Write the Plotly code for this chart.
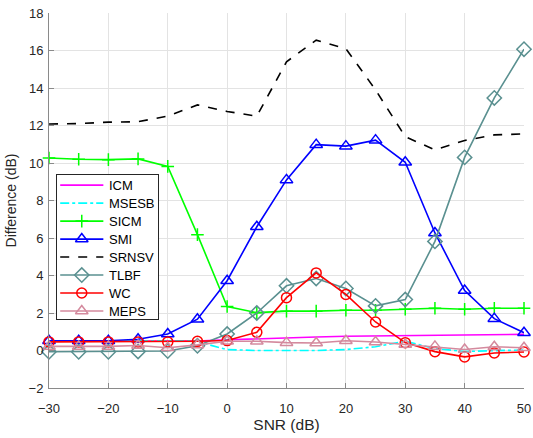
import plotly.graph_objects as go

snr = [-30, -25, -20, -15, -10, -5, 0, 5, 10, 15, 20, 25, 30, 35, 40, 45, 50]

icm = [0.5, 0.5, 0.5, 0.5, 0.5, 0.5, 0.57, 0.63, 0.68, 0.72, 0.76, 0.78, 0.8, 0.8, 0.8, 0.82, 0.86]
msesb_snr = [-30, -25, -20, -15, -10, -5, -3, 0, 5, 10, 15, 20, 25, 30, 35, 40, 45, 50]
msesb = [0.5, 0.5, 0.5, 0.5, 0.52, 0.52, 0.3, 0.05, 0.0, 0.0, 0.0, 0.05, 0.2, 0.5, 0.1, -0.05, 0.0, 0.03]
sicm = [10.27, 10.2, 10.18, 10.22, 9.82, 6.18, 2.35, 2.02, 2.1, 2.1, 2.15, 2.15, 2.2, 2.25, 2.2, 2.25, 2.25]
smi = [0.52, 0.52, 0.52, 0.6, 0.88, 1.67, 3.72, 6.6, 9.1, 10.98, 10.9, 11.22, 10.04, 6.27, 3.2, 1.7, 0.95]
srnsv = [12.08, 12.1, 12.18, 12.2, 12.5, 13.1, 12.75, 12.5, 15.4, 16.55, 16.1, 13.9, 11.4, 10.7, 11.2, 11.5, 11.55]
tlbf = [-0.07, -0.07, -0.07, -0.05, -0.03, 0.25, 0.88, 2.0, 3.45, 3.84, 3.31, 2.38, 2.72, 5.82, 10.3, 13.47, 16.07]
wc = [0.46, 0.46, 0.46, 0.46, 0.46, 0.49, 0.53, 0.97, 2.82, 4.14, 2.99, 1.52, 0.42, -0.06, -0.34, -0.13, -0.08]
meps = [0.22, 0.22, 0.22, 0.27, 0.15, 0.3, 0.49, 0.49, 0.42, 0.4, 0.52, 0.45, 0.32, 0.22, 0.05, 0.2, 0.15]

x_ticks = [-30, -20, -10, 0, 10, 20, 30, 40, 50]
y_ticks = [-2, 0, 2, 4, 6, 8, 10, 12, 14, 16, 18]

FONT = "Liberation Sans, Arial, sans-serif"
TEXT = "#262626"

# (name, x, y, colour, dash, marker symbol, marker size)
series = [
    ("ICM", snr, icm, "#ff00ff", "solid", None, 0),
    ("MSESB", msesb_snr, msesb, "#00ffff", "dashdot", None, 0),
    ("SICM", snr, sicm, "#00ff00", "solid", "cross-thin-open", 9),
    ("SMI", snr, smi, "#0000ff", "solid", "triangle-up-open", 11),
    ("SRNSV", snr, srnsv, "#000000", "dash", None, 0),
    ("TLBF", snr, tlbf, "#5a9090", "solid", "diamond-open", 11),
    ("WC", snr, wc, "#ff0000", "solid", "circle-open", 10),
    ("MEPS", snr, meps, "#d48a9e", "solid", "triangle-up-open", 11),
]

fig = go.Figure()

for name, x, y, color, dash, symbol, msize in series:
    kw = {}
    if symbol:
        kw["marker"] = dict(symbol=symbol, size=msize, color=color,
                            line=dict(color=color, width=1.5))
    fig.add_trace(go.Scatter(x=x, y=y, name=name,
                             mode="lines+markers" if symbol else "lines",
                             line=dict(color=color, width=1.6, dash=dash),
                             cliponaxis=False, showlegend=False, **kw))

# Legend box drawn as an inset subplot (pixel-like units inside the box)
LEG_W, LEG_H = 101, 144
ROW0, ROW_STEP = 10, 18
for i, (name, x, y, color, dash, symbol, msize) in enumerate(series):
    ry = ROW0 + ROW_STEP * i
    fig.add_trace(go.Scatter(x=[3.5, 46.5], y=[ry, ry], mode="lines",
                             line=dict(color=color, width=1.6, dash=dash),
                             xaxis="x2", yaxis="y2", showlegend=False,
                             hoverinfo="skip"))
    if symbol:
        fig.add_trace(go.Scatter(x=[25], y=[ry], mode="markers",
                                 marker=dict(symbol=symbol, size=msize, color=color,
                                             line=dict(color=color, width=1.5)),
                                 xaxis="x2", yaxis="y2", showlegend=False,
                                 hoverinfo="skip"))
    fig.add_annotation(x=50, y=ry, xref="x2", yref="y2", text=name,
                       showarrow=False, xanchor="left", yanchor="middle",
                       font=dict(family=FONT, size=13, color="#000000"))

axis_common = dict(
    showgrid=True, gridcolor="#e3e3e3", gridwidth=1,
    showline=True, linecolor="#8a8a8a", linewidth=1,
    ticks="inside", ticklen=5, tickcolor="#8a8a8a",
    tickfont=dict(family=FONT, size=13, color=TEXT),
    zeroline=False, mirror=False, automargin=False,
)

fig.update_layout(
    width=533, height=438,
    margin=dict(l=49, r=9, t=13, b=50, autoexpand=False),
    paper_bgcolor="white", plot_bgcolor="white",
    showlegend=False,
    xaxis=dict(range=[-30, 50], tickvals=x_ticks, ticklabelstandoff=8,
               title=dict(text="SNR (dB)", font=dict(family=FONT, size=15.5, color=TEXT), standoff=4),
               **axis_common),
    yaxis=dict(range=[-2, 18], tickvals=y_ticks, ticklabelstandoff=2,
               title=dict(text="Difference (dB)", font=dict(family=FONT, size=14, color=TEXT), standoff=8),
               **axis_common),
    xaxis2=dict(domain=[0.0162, 0.2295], range=[0, LEG_W], anchor="y2",
                showgrid=False, zeroline=False, showticklabels=False, ticks="",
                showline=True, mirror=True, linecolor="#262626", linewidth=1,
                fixedrange=True),
    yaxis2=dict(domain=[0.184, 0.5676], range=[LEG_H, 0], anchor="x2",
                showgrid=False, zeroline=False, showticklabels=False, ticks="",
                showline=True, mirror=True, linecolor="#262626", linewidth=1,
                fixedrange=True),
)

fig.write_html("out.html")
